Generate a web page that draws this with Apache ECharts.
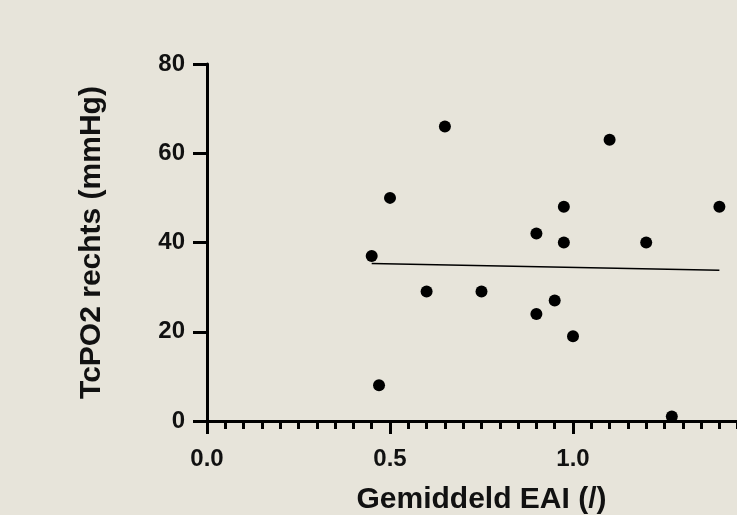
<!DOCTYPE html>
<html>
<head>
<meta charset="utf-8">
<script src="https://cdn.jsdelivr.net/npm/echarts@6/dist/echarts.min.js"></script>
<style>
  html, body { margin: 0; padding: 0; background: #e7e4da; overflow: hidden; }
  #wrap { width: 737px; height: 515px; overflow: hidden; }
  /* canvas iets breder zodat de x-as rechts wordt afgesneden */
  #main { width: 756px; height: 515px; }
</style>
</head>
<body>
<div id="wrap"><div id="main"></div></div>
<script>
// punten: gemiddeld EAI vs TcPO2 rechts
var eaiValues = [0.65, 1.1, 0.5, 0.975, 1.4, 0.9, 0.975, 1.2, 0.45, 0.6, 0.75, 0.95, 0.9, 1.0, 0.47, 1.27];
var tcpo2Values = [66, 63, 50, 48, 48, 42, 40, 40, 37, 29, 29, 27, 24, 19, 8, 1];
var fitX = [0.45, 1.4];
var fitY = [35.3, 33.8];

var points = eaiValues.map(function (x, i) { return [x, tcpo2Values[i]]; });
var fitLine = fitX.map(function (x, i) { return [x, fitY[i]]; });

var chart = echarts.init(document.getElementById('main'));
var font = '"Liberation Sans", Arial, sans-serif';

var option = {
  backgroundColor: '#e7e4da',
  animation: false,
  grid: {
    left: 207,
    top: 64,
    bottom: 94,
    right: 0,
    outerBoundsMode: 'none'
  },
  xAxis: {
    type: 'value',
    min: 0,
    max: 1.5,
    interval: 0.5,
    name: 'Gemiddeld EAI (/)',
    nameLocation: 'middle',
    nameGap: 64,
    nameTextStyle: { color: '#111', fontSize: 30, fontWeight: 'bold', fontFamily: font },
    axisLine: { onZero: false, lineStyle: { color: '#000', width: 3 } },
    axisTick: { show: true, length: 13, lineStyle: { color: '#000', width: 3 } },
    minorTick: { show: true, splitNumber: 10, length: 8, lineStyle: { color: '#000', width: 3 } },
    splitLine: { show: false },
    axisLabel: {
      color: '#111',
      fontSize: 24,
      fontWeight: 'bold',
      fontFamily: font,
      margin: 26,
      formatter: function (v) { return v.toFixed(1); }
    }
  },
  yAxis: {
    type: 'value',
    min: 0,
    max: 80,
    interval: 20,
    name: 'TcPO2 rechts (mmHg)',
    nameLocation: 'middle',
    nameGap: 100,
    nameTextStyle: { color: '#111', fontSize: 30, fontWeight: 'bold', fontFamily: font },
    axisLine: { show: true, lineStyle: { color: '#000', width: 3 } },
    axisTick: { show: true, length: 14, lineStyle: { color: '#000', width: 3 } },
    splitLine: { show: false },
    axisLabel: {
      color: '#111',
      fontSize: 24,
      fontWeight: 'bold',
      fontFamily: font,
      margin: 22
    }
  },
  series: [
    {
      type: 'scatter',
      data: points,
      symbol: 'circle',
      symbolSize: 12,
      itemStyle: { color: '#000', opacity: 1 },
      z: 3
    },
    {
      type: 'line',
      data: fitLine,
      showSymbol: false,
      symbol: 'none',
      lineStyle: { color: '#000', width: 1.5 },
      z: 2
    }
  ]
};

chart.setOption(option);
</script>
</body>
</html>
